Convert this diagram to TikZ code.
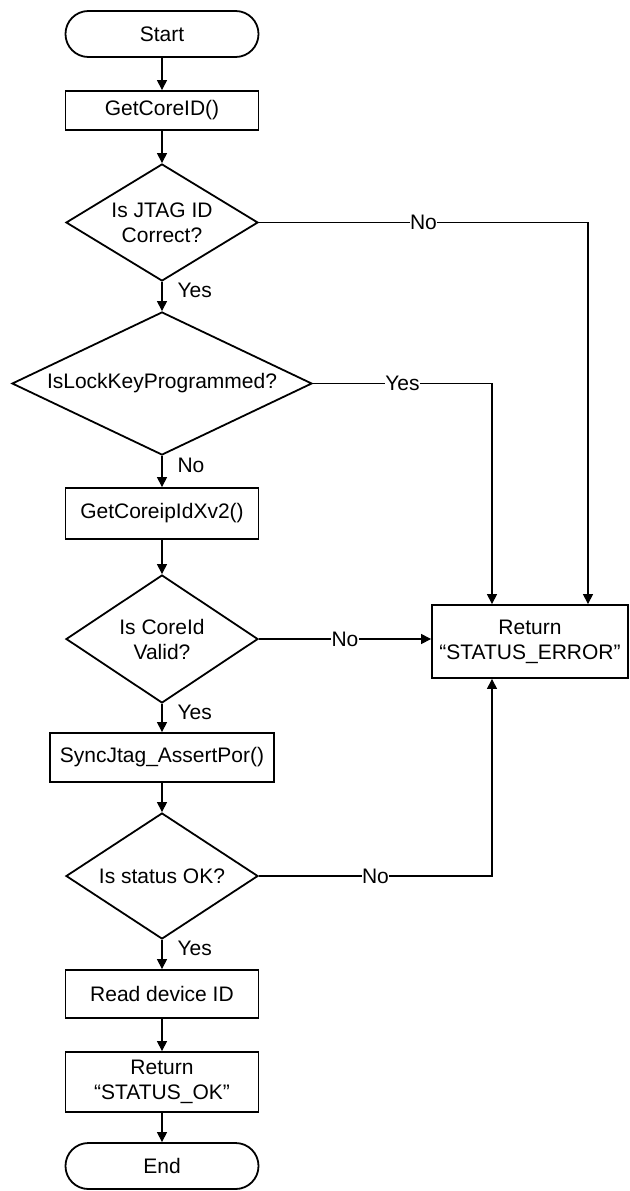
\documentclass[tikz,border=0pt]{standalone}
\usepackage{fontspec}
\setmainfont{Liberation Sans}
\usetikzlibrary{shapes.geometric,arrows.meta}
\begin{document}
\begin{tikzpicture}[x=1pt,y=-1pt,
 every node/.style={font=\fontsize{21}{25}\selectfont},
 box/.style={draw,line width=1.8pt,rectangle,align=center,inner sep=0pt},
 term/.style={draw,line width=1.8pt,rounded corners=22.9pt,minimum width=193pt,minimum height=46pt,inner sep=0pt},
 dec/.style={draw,line width=1.8pt,diamond,align=center,inner sep=0pt},
 conn/.style={line width=1.1pt,-{Triangle[length=10pt,width=10pt]}},
 lbl/.style={fill=white,inner sep=0.5pt},
 side/.style={anchor=west,inner sep=0pt,xshift=15pt}]
\useasboundingbox (0,0) rectangle (629,1191);
\node[term] (start) at (162,34) {Start};
\node[box,minimum width=193pt,minimum height=39pt] (getid) at (162,110.5) {GetCoreID()};
\node[dec,minimum width=192pt,minimum height=117pt,aspect=1.64] (d1) at (162,222.5) {Is JTAG ID\\Correct?};
\node[dec,minimum width=300pt,minimum height=143pt,aspect=2.1] (d2) at (162,383.5) {IsLockKeyProgrammed?};
\node[box,minimum width=193pt,minimum height=51pt] (xv2) at (162,513.5) {GetCoreipIdXv2()};
\node[dec,minimum width=192pt,minimum height=128pt,aspect=1.5] (d3) at (162,639) {Is CoreId\\Valid?};
\node[box,minimum width=224pt,minimum height=49pt] (sync) at (162,757.5) {SyncJtag\_AssertPor()};
\node[dec,minimum width=192pt,minimum height=126pt,aspect=1.5] (d4) at (162,876) {Is status OK?};
\node[box,minimum width=193pt,minimum height=48pt] (read) at (162,994) {Read device ID};
\node[box,minimum width=193pt,minimum height=60pt] (retok) at (162,1082) {Return\\“STATUS\_OK”};
\node[term] (end) at (162,1166) {End};
\node[box,minimum width=196pt,minimum height=73pt] (err) at (530,641.5) {Return\\“STATUS\_ERROR”};
\draw[conn] (start) -- (getid);
\draw[conn] (getid) -- (d1);
\draw[conn] (d1) -- node[side,pos=0.3]{Yes} (d2);
\draw[conn] (d2) -- node[side,pos=0.3]{No} (xv2);
\draw[conn] (xv2) -- (d3);
\draw[conn] (d3) -- node[side,pos=0.3]{Yes} (sync);
\draw[conn] (sync) -- (d4);
\draw[conn] (d4) -- node[side,pos=0.3]{Yes} (read);
\draw[conn] (read) -- (retok);
\draw[conn] (retok) -- (end);
\draw[conn] (d1.east) -| node[lbl,pos=0.25]{No} ([xshift=58pt]err.north);
\draw[conn] (d2.east) -| node[lbl,pos=0.25]{Yes} ([xshift=-38pt]err.north);
\draw[conn] (d3.east) -- node[lbl]{No} (d3.east -| err.west);
\draw[conn] (d4.east) -| node[lbl,pos=0.25]{No} ([xshift=-38pt]err.south);
\end{tikzpicture}
\end{document}
